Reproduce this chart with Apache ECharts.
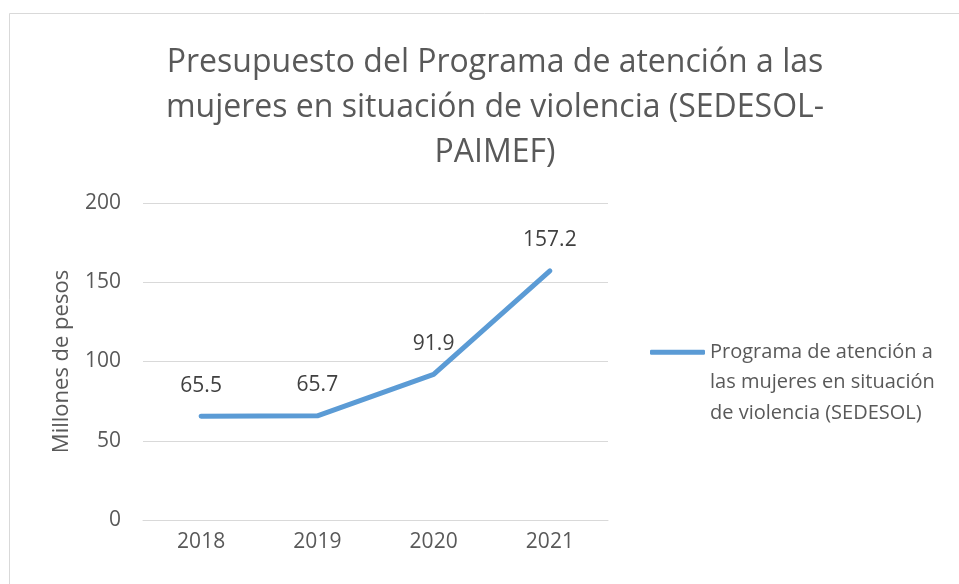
<!DOCTYPE html>
<html>
<head>
<meta charset="utf-8">
<script src="https://cdn.jsdelivr.net/npm/echarts@6/dist/echarts.min.js"></script>
<style>
  html, body { margin: 0; padding: 0; background: #fff; }
  #main { width: 959px; height: 584px; }
</style>
</head>
<body>
<div id="main"></div>
<script>
// datos del gráfico
var years = ['2018', '2019', '2020', '2021'];
var budget = [65.5, 65.7, 91.9, 157.2];
var seriesName = 'Programa de atención a las mujeres en situación de violencia (SEDESOL)';
var legendLines = ['Programa de atención a', 'las mujeres en situación', 'de violencia (SEDESOL)'];
var yTicks = [0, 50, 100, 150, 200];

var font = 'Open Sans';
var myChart = echarts.init(document.getElementById('main'));

var option = {
  animation: false,
  backgroundColor: '#fff',
  title: {
    text: 'Presupuesto del Programa de atención a las\nmujeres en situación de violencia (SEDESOL-\nPAIMEF)',
    left: 490,
    top: 35,
    textAlign: 'center',
    textStyle: {
      fontFamily: font,
      fontSize: 32,
      fontWeight: 'normal',
      lineHeight: 45,
      color: '#595959'
    }
  },
  legend: {
    left: 650,
    top: 276,
    padding: 0,
    orient: 'vertical',
    icon: 'roundRect',
    itemWidth: 55,
    itemHeight: 5,
    itemGap: 0,
    // dos líneas vacías arriba para que el icono quede a la altura de la primera línea
    formatter: function () { return '\n\n' + legendLines.join('\n'); },
    textStyle: {
      fontFamily: font,
      fontSize: 20,
      lineHeight: 30.5,
      color: '#595959'
    }
  },
  grid: {
    left: 143,
    right: 351,
    top: 203,
    bottom: 64
  },
  xAxis: {
    type: 'category',
    data: years,
    boundaryGap: true,
    axisLine: { lineStyle: { color: '#d9d9d9', width: 1 } },
    axisTick: { show: false },
    axisLabel: {
      fontFamily: font,
      fontSize: 21,
      color: '#595959',
      margin: 12
    }
  },
  yAxis: {
    type: 'value',
    min: yTicks[0],
    max: yTicks[yTicks.length - 1],
    interval: 50,
    name: 'Millones de pesos',
    nameLocation: 'middle',
    nameGap: 70,
    nameTextStyle: {
      fontFamily: font,
      fontSize: 22,
      color: '#595959'
    },
    axisLine: { show: false },
    axisTick: { show: false },
    splitLine: { lineStyle: { color: '#d9d9d9', width: 1 } },
    axisLabel: {
      fontFamily: font,
      fontSize: 21,
      color: '#595959',
      margin: 22
    }
  },
  graphic: [
    {
      type: 'rect',
      silent: true,
      shape: { x: 9.5, y: 13.5, width: 1000, height: 1000 },
      style: { fill: 'none', stroke: '#d9d9d9', lineWidth: 1 }
    }
  ],
  series: [
    {
      name: seriesName,
      type: 'line',
      data: budget,
      symbol: 'circle',
      symbolSize: 0,
      showSymbol: true,
      lineStyle: { color: '#5b9bd5', width: 5, cap: 'round', join: 'round' },
      itemStyle: { color: '#5b9bd5' },
      label: {
        show: true,
        position: 'top',
        distance: 20,
        fontFamily: font,
        fontSize: 21,
        color: '#404040'
      }
    }
  ]
};

option.legend.data = [seriesName];
myChart.setOption(option);
</script>
</body>
</html>
